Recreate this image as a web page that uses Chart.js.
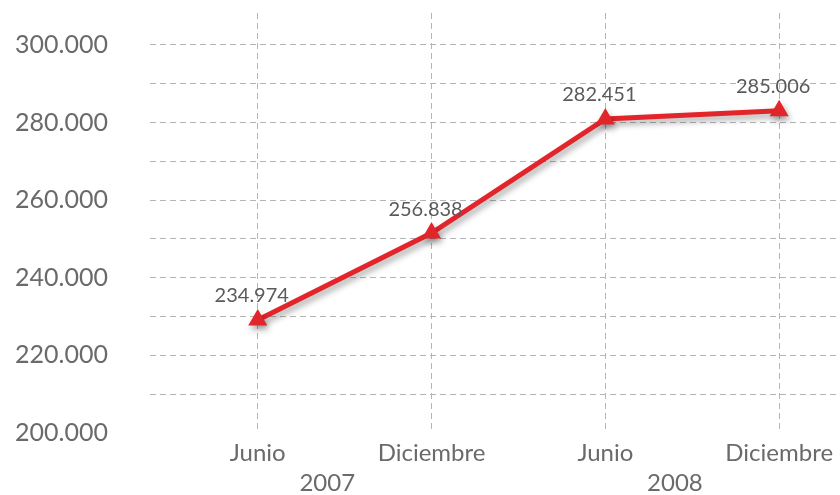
<!DOCTYPE html>
<html>
<head>
<meta charset="utf-8">
<script src="https://cdn.jsdelivr.net/npm/chart.js@4.4.1/dist/chart.umd.min.js"></script>
<style>
  html, body { margin: 0; padding: 0; background: #fff; }
  #wrap { width: 840px; height: 495px; }
</style>
</head>
<body>
<div id="wrap"><canvas id="lineChart"></canvas></div>
<script>
// categories (months) and the year each pair belongs to
const months = ["Junio", "Diciembre", "Junio", "Diciembre"];
const years = ["2007", "2008"];
// plotted values as they sit in the picture
const values = [229100, 251500, 280900, 283000];
// printed value labels
const valueLabels = ["234.974", "256.838", "282.451", "285.006"];
// y tick range
const yTicks = [200000, 210000, 220000, 230000, 240000, 250000, 260000, 270000, 280000, 290000, 300000];

const fontFamily = "Lato, 'Noto Sans', sans-serif";
const textColor = "#6a6a6a";

const points = values.map((v, i) => ({ x: i, y: v }));

// soft shadow under the red line
const shadowPlugin = {
    id: "lineShadow",
    beforeDatasetDraw(chart) {
        const ctx = chart.ctx;
        ctx.save();
        ctx.shadowColor = "rgba(0,0,0,0.35)";
        ctx.shadowBlur = 6;
        ctx.shadowOffsetX = 2;
        ctx.shadowOffsetY = 4;
    },
    afterDatasetDraw(chart) {
        chart.ctx.restore();
    }
};

// value labels above points and year labels under the months
const labelPlugin = {
    id: "extraLabels",
    afterDatasetsDraw(chart) {
        const ctx = chart.ctx;
        const meta = chart.getDatasetMeta(0);
        ctx.save();
        ctx.font = "20px " + fontFamily;
        ctx.fillStyle = "#5a5a5a";
        ctx.textAlign = "center";
        ctx.textBaseline = "middle";
        meta.data.forEach((pt, i) => {
            ctx.fillText(valueLabels[i], pt.x - 6, pt.y - 24);
        });

        const xs = chart.scales.x;
        ctx.font = "24px " + fontFamily;
        ctx.fillStyle = textColor;
        years.forEach((yr, i) => {
            const px = xs.getPixelForValue(i * 2 + 0.4);
            ctx.fillText(yr, px, 483);
        });
        ctx.restore();
    }
};

const ctx = document.getElementById("lineChart").getContext("2d");

new Chart(ctx, {
    type: "line",
    data: {
        datasets: [{
            data: points,
            borderColor: "#e2252b",
            backgroundColor: "#e2252b",
            borderWidth: 5,
            pointStyle: "triangle",
            pointRadius: 11,
            pointHoverRadius: 11,
            pointBorderWidth: 0,
            tension: 0,
            fill: false
        }]
    },
    options: {
        responsive: true,
        maintainAspectRatio: false,
        animation: false,
        layout: {
            autoPadding: false,
            padding: { left: 15, top: 13, right: 0, bottom: 0 }
        },
        plugins: {
            legend: { display: false },
            tooltip: { enabled: false }
        },
        scales: {
            x: {
                type: "linear",
                min: -0.62,
                max: 3.35,
                afterBuildTicks: axis => {
                    axis.ticks = months.map((m, i) => ({ value: i }));
                },
                afterFit: axis => {
                    axis.height = 62;
                    axis.paddingLeft = 0;
                    axis.paddingRight = 0;
                },
                ticks: {
                    callback: v => months[v],
                    color: textColor,
                    font: { family: fontFamily, size: 24 },
                    padding: 6,
                    maxRotation: 0
                },
                grid: {
                    color: "#b5b5b5",
                    lineWidth: 1,
                    drawTicks: false
                },
                border: { display: false, dash: [6, 4] }
            },
            y: {
                min: 200000,
                max: 308200,
                afterBuildTicks: axis => {
                    axis.ticks = yTicks.map(v => ({ value: v }));
                },
                afterFit: axis => {
                    axis.width = 135;
                    axis.paddingTop = 0;
                    axis.paddingBottom = 0;
                },
                ticks: {
                    callback: v => (v % 20000 === 0 ? v.toLocaleString("de-DE") : ""),
                    color: textColor,
                    font: { family: fontFamily, size: 25 },
                    crossAlign: "far",
                    padding: 10
                },
                grid: {
                    color: c => (c.tick && c.tick.value === 200000 ? "rgba(0,0,0,0)" : "#b5b5b5"),
                    lineWidth: 1,
                    drawTicks: false
                },
                border: { display: false, dash: [6, 4] }
            }
        }
    },
    plugins: [shadowPlugin, labelPlugin]
});
</script>
</body>
</html>
